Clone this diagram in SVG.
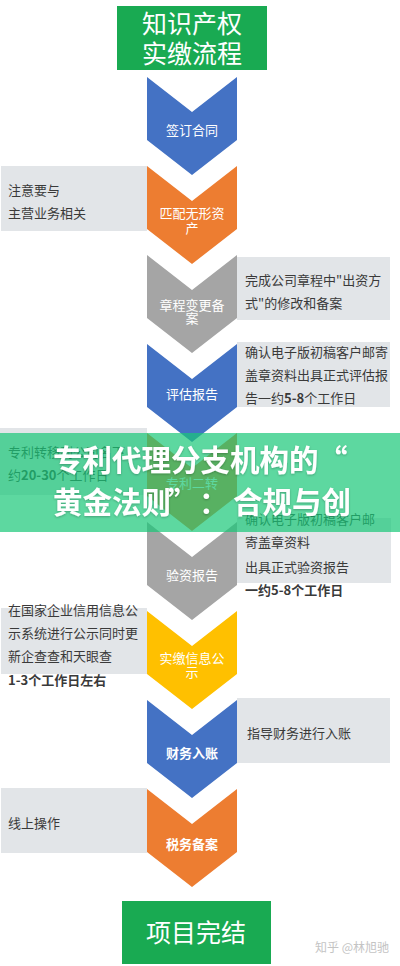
<svg xmlns="http://www.w3.org/2000/svg" xmlns:xlink="http://www.w3.org/1999/xlink" width="400" height="966" viewBox="0 0 400 966">
<style>
text{font-family:"Noto Sans CJK SC","Noto Sans",sans-serif;}
.box{fill:#e2e5e8;}
.note{font-size:13px;fill:#3a3a3a;}
.lbl{font-size:13px;fill:#ffffff;text-anchor:middle;}
.big{font-size:25px;fill:#ffffff;text-anchor:middle;}
.b{font-weight:bold;}
.blue{fill:#4472c4;}
.orange{fill:#ed7d31;}
.gray{fill:#a5a5a5;}
.yellow{fill:#ffc000;}
.green{fill:#19aa52;}
.ban{font-size:29.5px;font-weight:bold;fill:#ffffff;}
</style>
<defs>
<path id="chev" d="M147,0 L192,35 L237,0 L237,63 L192,98 L147,63 Z"/>
<filter id="sh" x="-5%" y="-20%" width="110%" height="140%"><feDropShadow dx="0" dy="1" stdDeviation="1" flood-color="#000" flood-opacity="0.25"/></filter>
</defs>
<rect width="400" height="966" fill="#ffffff"/>

<g id="title">
<rect class="green" x="117" y="6" width="150" height="64"/>
<text class="big" x="192" y="33">知识产权</text>
<text class="big" x="192" y="63">实缴流程</text>
</g>

<g id="note1">
<rect class="box" x="1" y="166" width="146" height="65"/>
<text class="note" x="8" y="195">注意要与</text>
<text class="note" x="8" y="218">主营业务相关</text>
</g>
<g id="note2">
<rect class="box" x="237" y="257" width="153" height="63"/>
<text class="note" x="245" y="285">完成公司章程中&quot;出资方</text>
<text class="note" x="245" y="308">式&quot;的修改和备案</text>
</g>
<g id="note3">
<rect class="box" x="237" y="342" width="153" height="65"/>
<text class="note" x="245" y="357">确认电子版初稿客户邮寄</text>
<text class="note" x="245" y="380">盖章资料出具正式评估报</text>
<text class="note" x="245" y="403">告一约<tspan class="b">5-8</tspan>个工作日</text>
</g>
<g id="note5">
<rect class="box" x="0" y="428" width="147" height="67"/>
<text class="note" x="8" y="457">专利转移到公司名下</text>
<text class="note" x="8" y="480">约<tspan class="b">20-30</tspan>个工作日</text>
</g>
<g id="note6">
<rect class="box" x="237" y="518" width="154" height="65"/>
<text class="note" x="245" y="524">确认电子版初稿客户邮</text>
<text class="note" x="245" y="547">寄盖章资料</text>
<text class="note" x="245" y="572">出具正式验资报告</text>
<text class="note b" x="245" y="595">一约5-8个工作日</text>
</g>
<g id="note7">
<rect class="box" x="1" y="608" width="146" height="66"/>
<text class="note" x="8" y="615">在国家企业信用信息公</text>
<text class="note" x="8" y="638">示系统进行公示同时更</text>
<text class="note" x="8" y="661">新企查查和天眼查</text>
<text class="note b" x="8" y="685">1-3个工作日左右</text>
</g>
<g id="note8">
<rect class="box" x="237" y="698" width="153" height="65"/>
<text class="note" x="247" y="738">指导财务进行入账</text>
</g>
<g id="note9">
<rect class="box" x="1" y="788" width="146" height="65"/>
<text class="note" x="8" y="828">线上操作</text>
</g>

<g id="step1"><use xlink:href="#chev" y="77" class="blue"/><text class="lbl" x="192" y="135">签订合同</text></g>
<g id="step2"><use xlink:href="#chev" y="166" class="orange"/><text class="lbl" x="192" y="218">匹配无形资</text><text class="lbl" x="192" y="233">产</text></g>
<g id="step3"><use xlink:href="#chev" y="255" class="gray"/><text class="lbl" x="192" y="310">章程变更备</text><text class="lbl" x="192" y="323">案</text></g>
<g id="step4"><use xlink:href="#chev" y="344" class="blue"/><text class="lbl" x="192" y="399">评估报告</text></g>
<g id="step5"><use xlink:href="#chev" y="433" class="orange"/><text class="lbl" x="192" y="488">专利二转</text></g>
<g id="step6"><use xlink:href="#chev" y="522" class="gray"/><text class="lbl" x="192" y="580">验资报告</text></g>
<g id="step7"><use xlink:href="#chev" y="611" class="yellow"/><text class="lbl" x="192" y="663">实缴信息公</text><text class="lbl" x="192" y="677">示</text></g>
<g id="step8"><use xlink:href="#chev" y="700" class="blue"/><text class="lbl b" x="192" y="758">财务入账</text></g>
<g id="step9"><use xlink:href="#chev" y="789" class="orange"/><text class="lbl b" x="192" y="849">税务备案</text></g>

<g id="end">
<rect class="green" x="122" y="901" width="149" height="63"/>
<text class="big" x="196" y="942">项目完结</text>
</g>

<text x="315" y="952" font-size="12" fill="#c4c4c4">知乎 @林旭驰</text>

<g id="banner">
<rect x="0" y="433" width="400" height="99" fill="rgb(24,199,119)" fill-opacity="0.7"/>
<g filter="url(#sh)">
<text class="ban" x="53" y="471">专利代理分支机构的<tspan x="318">“</tspan></text>
<text class="ban" x="53" y="513">黄金法则<tspan x="168">”</tspan><tspan x="199">：</tspan><tspan x="233">合规与创</tspan></text>
</g>
</g>
</svg>
